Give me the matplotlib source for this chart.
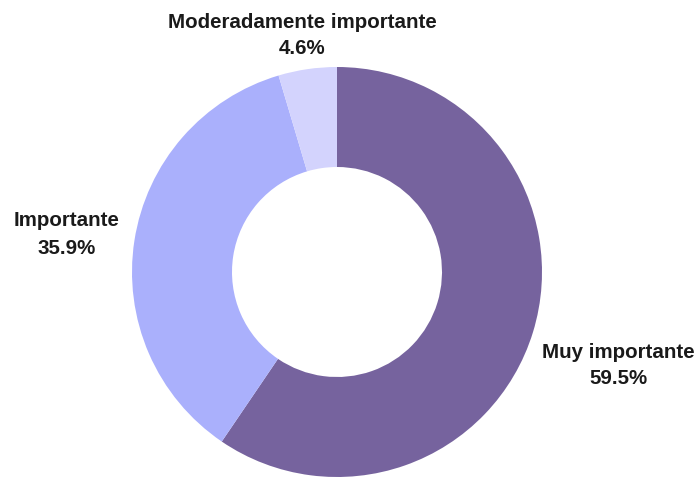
import matplotlib.pyplot as plt

labels = ['Muy importante', 'Importante', 'Moderadamente importante']
values = [59.5, 35.9, 4.6]
colors = ['#76639e', '#aab0fc', '#d3d3fd']

fig = plt.figure(figsize=(6.98, 4.8), dpi=100)
ax = fig.add_axes([0, 0, 1, 1])
ax.set_xlim(0, 698)
ax.set_ylim(0, 480)
ax.set_aspect('equal')
ax.axis('off')

ax.pie(values, colors=colors, startangle=90, counterclock=False,
       center=(337, 208), radius=205,
       wedgeprops=dict(width=100, linewidth=0))
ax.set_xlim(0, 698)
ax.set_ylim(0, 480)

# label positions in pixels (x, y from top)
pos = [(618, 352), (67, 221), (302, 22)]
for lab, v, (x, y) in zip(labels, values, pos):
    ax.text(x, 480 - y, lab, ha='center', va='center', fontsize=14.8,
            fontweight='bold', family='Liberation Sans', color='#1a1a1a')
    ax.text(x, 480 - y - 27, '%.1f%%' % v, ha='center', va='center', fontsize=14.8,
            fontweight='bold', family='Liberation Sans', color='#1a1a1a')

fig.savefig('out.png', dpi=100)
